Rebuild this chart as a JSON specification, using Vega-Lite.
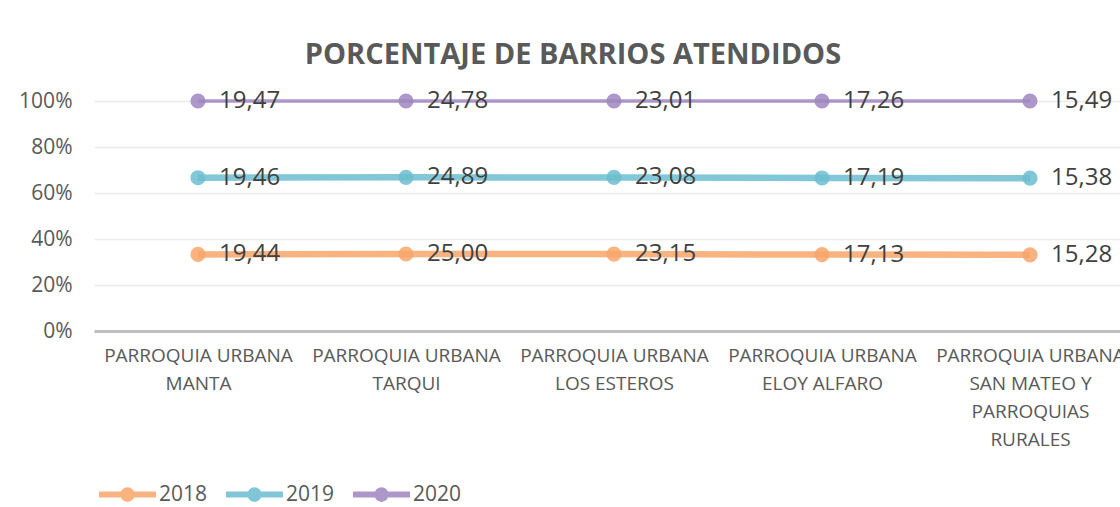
{
  "$schema": "https://vega.github.io/schema/vega-lite/v6.json",
  "autosize": {"type": "none"},
  "padding": {"left": 94, "top": 101, "right": 0, "bottom": 176},
  "width": 1040,
  "height": 230,
  "background": "white",
  "config": {
    "locale": {"number": {"decimal": ",", "thousands": ".", "grouping": [3], "currency": ["", " €"]}},
    "view": {"stroke": null},
    "font": "Open Sans"
  },
  "title": {
    "text": "PORCENTAJE DE BARRIOS ATENDIDOS",
    "fontSize": 29,
    "fontWeight": "bold",
    "color": "#595959",
    "anchor": "middle",
    "dx": -41,
    "offset": 19
  },
  "data": {
    "values": [
      {"parroquia": "PARROQUIA URBANA|MANTA", "anio": "2018", "valor": 19.44},
      {"parroquia": "PARROQUIA URBANA|MANTA", "anio": "2019", "valor": 19.46},
      {"parroquia": "PARROQUIA URBANA|MANTA", "anio": "2020", "valor": 19.47},
      {"parroquia": "PARROQUIA URBANA|TARQUI", "anio": "2018", "valor": 25.00},
      {"parroquia": "PARROQUIA URBANA|TARQUI", "anio": "2019", "valor": 24.89},
      {"parroquia": "PARROQUIA URBANA|TARQUI", "anio": "2020", "valor": 24.78},
      {"parroquia": "PARROQUIA URBANA|LOS ESTEROS", "anio": "2018", "valor": 23.15},
      {"parroquia": "PARROQUIA URBANA|LOS ESTEROS", "anio": "2019", "valor": 23.08},
      {"parroquia": "PARROQUIA URBANA|LOS ESTEROS", "anio": "2020", "valor": 23.01},
      {"parroquia": "PARROQUIA URBANA|ELOY ALFARO", "anio": "2018", "valor": 17.13},
      {"parroquia": "PARROQUIA URBANA|ELOY ALFARO", "anio": "2019", "valor": 17.19},
      {"parroquia": "PARROQUIA URBANA|ELOY ALFARO", "anio": "2020", "valor": 17.26},
      {"parroquia": "PARROQUIA URBANA|SAN MATEO Y|PARROQUIAS|RURALES", "anio": "2018", "valor": 15.28},
      {"parroquia": "PARROQUIA URBANA|SAN MATEO Y|PARROQUIAS|RURALES", "anio": "2019", "valor": 15.38},
      {"parroquia": "PARROQUIA URBANA|SAN MATEO Y|PARROQUIAS|RURALES", "anio": "2020", "valor": 15.49}
    ]
  },
  "transform": [
    {
      "stack": "valor",
      "groupby": ["parroquia"],
      "sort": [{"field": "anio", "order": "ascending"}],
      "offset": "normalize",
      "as": ["y0", "y1"]
    }
  ],
  "encoding": {
    "x": {
      "field": "parroquia",
      "type": "nominal",
      "sort": null,
      "scale": {"type": "point", "padding": 0.5},
      "axis": {
        "title": null,
        "labelExpr": "split(datum.value, '|')",
        "labelFontSize": 19,
        "labelColor": "#595959",
        "labelPadding": 15,
        "labelLineHeight": 28,
        "labelAngle": 0,
        "labelBaseline": "top",
        "labelOverlap": false,
        "labelFlush": false,
        "labelLimit": 0,
        "ticks": false,
        "grid": false,
        "domainColor": "#BFBFBF",
        "domainWidth": 3
      }
    },
    "y": {
      "field": "y1",
      "type": "quantitative",
      "scale": {"domain": [0, 1]},
      "axis": {
        "title": null,
        "format": ".0%",
        "values": [0, 0.2, 0.4, 0.6, 0.8, 1],
        "labelFontSize": 21,
        "labelColor": "#595959",
        "labelPadding": 22,
        "ticks": false,
        "domain": false,
        "gridColor": "#EBEBEB",
        "gridWidth": 1.5
      }
    },
    "color": {
      "field": "anio",
      "type": "nominal",
      "scale": {"domain": ["2018", "2019", "2020"], "range": ["#F8A66B", "#6CBDD0", "#9F86C0"]},
      "legend": {
        "title": null,
        "orient": "none",
        "direction": "horizontal",
        "legendX": 2,
        "legendY": 362,
        "symbolType": "M -1 0 L 1 0 M 0.15 0 A 0.15 0.15 0 1 1 -0.15 0 A 0.15 0.15 0 1 1 0.15 0",
        "symbolSize": 3249,
        "symbolStrokeWidth": 6,
        "symbolOpacity": 0.85,
        "labelFontSize": 21,
        "labelColor": "#595959",
        "labelOffset": 0,
        "columnPadding": 6,
        "encode": {
          "symbols": {
            "update": {
              "fill": {"scale": "color", "field": "value"},
              "stroke": {"scale": "color", "field": "value"}
            }
          }
        }
      }
    }
  },
  "layer": [
    {
      "mark": {"type": "line", "opacity": 0.85},
      "encoding": {
        "strokeWidth": {
          "condition": {"test": "datum.anio === '2020'", "value": 3.5},
          "value": 6.5
        }
      }
    },
    {
      "mark": {"type": "circle", "size": 230, "opacity": 0.85}
    },
    {
      "mark": {"type": "text", "align": "left", "baseline": "middle", "dx": 21, "fontSize": 24, "color": "#404040"},
      "encoding": {
        "text": {"field": "valor", "type": "quantitative", "format": ".2f"},
        "color": {"value": "#404040"}
      }
    }
  ]
}
